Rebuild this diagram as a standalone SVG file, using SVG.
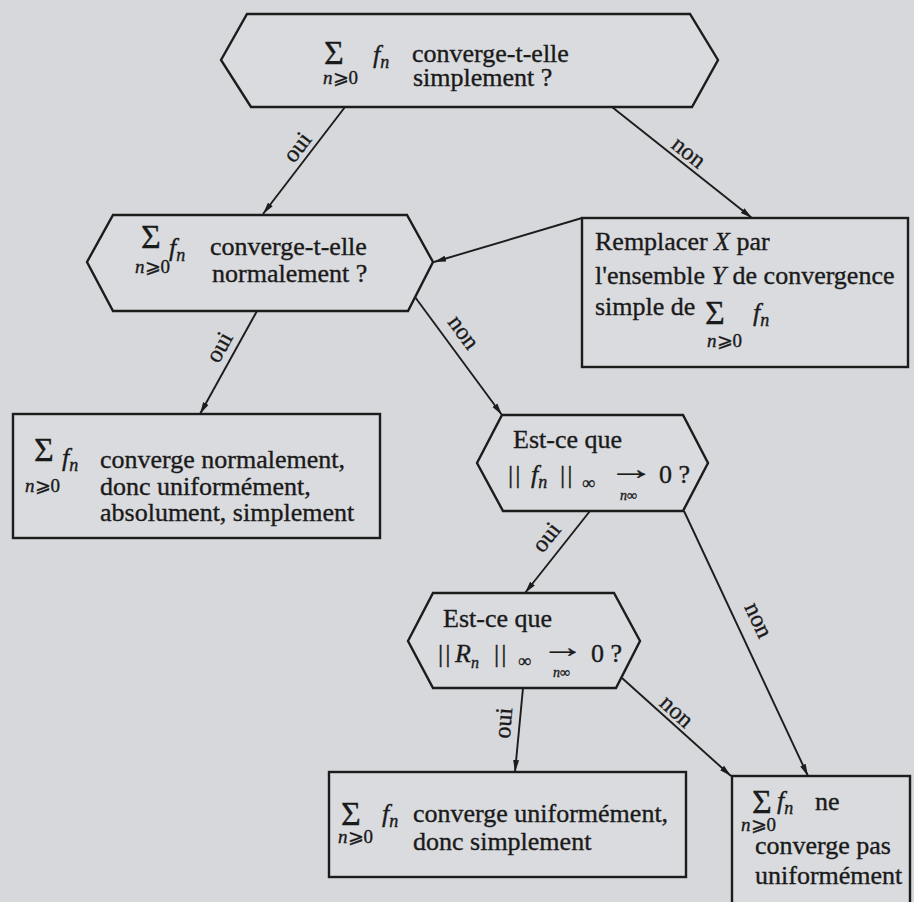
<svg xmlns="http://www.w3.org/2000/svg" width="914" height="902" viewBox="0 0 914 902">
<defs>
<style>
.bg{fill:#d6d8db}
.shape{fill:#d9dbde;stroke:#1c1c1c;stroke-width:2.4;stroke-linejoin:miter}
.conn{fill:none;stroke:#1c1c1c;stroke-width:1.9;marker-end:url(#ah)}
text{font-family:"Liberation Serif","Times New Roman",serif;fill:#1a1a1a;stroke:#1a1a1a;stroke-width:0.35}
.t{font-size:26px}
.sig{font-size:34px}
.sub{font-size:19px}
.it{font-style:italic}
.lab{font-size:24px}
.tiny{font-size:14px}
</style>
<marker id="ah" viewBox="0 0 12 8" refX="12" refY="4" markerWidth="12" markerHeight="8" markerUnits="userSpaceOnUse" orient="auto">
<path d="M0,1 L12,4 L0,7 z" fill="#1c1c1c"/>
</marker>
</defs>
<rect class="bg" x="0" y="0" width="914" height="902"/>

<g id="connectors">
<line class="conn" x1="345" y1="107" x2="263" y2="214"/>
<line class="conn" x1="612" y1="107" x2="752" y2="218"/>
<line class="conn" x1="582" y1="218" x2="434" y2="262"/>
<line class="conn" x1="257" y1="311" x2="200" y2="414"/>
<line class="conn" x1="415" y1="297" x2="502" y2="415"/>
<line class="conn" x1="590" y1="511" x2="525" y2="593"/>
<line class="conn" x1="684" y1="511" x2="808" y2="776"/>
<line class="conn" x1="622" y1="678" x2="731" y2="776"/>
<line class="conn" x1="523" y1="688" x2="515" y2="772"/>
<text class="lab" x="297" y="155" text-anchor="middle" transform="rotate(-52.5 297 147)">oui</text>
<text class="lab" x="689" y="160" text-anchor="middle" transform="rotate(38.4 689 152)">non</text>
<text class="lab" x="219" y="355" text-anchor="middle" transform="rotate(-61 219 347)">oui</text>
<text class="lab" x="464" y="340" text-anchor="middle" transform="rotate(53.6 464 332)">non</text>
<text class="lab" x="546" y="545" text-anchor="middle" transform="rotate(-51.6 546 537)">oui</text>
<text class="lab" x="759" y="628" text-anchor="middle" transform="rotate(64.9 759 620)">non</text>
<text class="lab" x="677" y="719" text-anchor="middle" transform="rotate(42.2 677 711)">non</text>
<text class="lab" x="503" y="731" text-anchor="middle" transform="rotate(-85 503 723)">oui</text>
</g>

<g id="q-simple">
<polygon class="shape" points="221,60 247,14 690,14 718,60 692,107 251,107"/>
<text class="sig" x="324" y="64">Σ</text>
<text class="sub" x="323" y="84"><tspan class="it">n</tspan>⩾0</text>
<text class="t" x="373" y="63"><tspan class="it">f</tspan><tspan class="it" font-size="18" dy="5">n</tspan></text>
<text class="t" x="412" y="62">converge-t-elle</text>
<text class="t" x="413" y="86">simplement ?</text>
</g>

<g id="q-normal">
<polygon class="shape" points="87,262 113,215 407,215 433,262 408,311 113,311"/>
<text class="sig" x="141" y="248">Σ</text>
<text class="sub" x="135" y="273"><tspan class="it">n</tspan>⩾0</text>
<text class="t" x="169" y="256"><tspan class="it">f</tspan><tspan class="it" font-size="18" dy="5">n</tspan></text>
<text class="t" x="210" y="255">converge-t-elle</text>
<text class="t" x="212" y="282">normalement ?</text>
</g>

<g id="replace">
<rect class="shape" x="582" y="218" width="326" height="149"/>
<text class="t" x="595" y="250">Remplacer <tspan class="it">X</tspan> par</text>
<text class="t" x="595" y="284">l'ensemble <tspan class="it">Y</tspan> de convergence</text>
<text class="t" x="595" y="315">simple de</text>
<text class="sig" x="705" y="324">Σ</text>
<text class="sub" x="707" y="347"><tspan class="it">n</tspan>⩾0</text>
<text class="t" x="753" y="321"><tspan class="it">f</tspan><tspan class="it" font-size="18" dy="5">n</tspan></text>
</g>

<g id="normal-yes">
<rect class="shape" x="13" y="414" width="367" height="124"/>
<text class="sig" x="34" y="461">Σ</text>
<text class="sub" x="25" y="492"><tspan class="it">n</tspan>⩾0</text>
<text class="t" x="62" y="466"><tspan class="it">f</tspan><tspan class="it" font-size="18" dy="5">n</tspan></text>
<text class="t" x="100" y="468">converge normalement,</text>
<text class="t" x="100" y="495">donc uniformément,</text>
<text class="t" x="100" y="521">absolument, simplement</text>
</g>

<g id="q-fn">
<polygon class="shape" points="477,463 502,415 683,415 708,463 683,511 503,511"/>
<text class="t" x="513" y="448">Est-ce que</text>
<text class="t" x="508" y="483" letter-spacing="2">||</text>
<text class="t" x="531" y="483"><tspan class="it">f</tspan><tspan class="it" font-size="18" dy="5">n</tspan></text>
<text class="t" x="560" y="483" letter-spacing="2">||</text>
<text x="582" y="489" font-size="18">∞</text>
<text font-size="30" transform="translate(608 479) scale(1.55 1)">→</text>
<text class="tiny" x="620" y="500"><tspan class="it">n</tspan>∞</text>
<text class="t" x="659" y="483">0 ?</text>
</g>

<g id="q-rn">
<polygon class="shape" points="408,641 433,593 614,593 640,641 616,688 433,688"/>
<text class="t" x="443" y="627">Est-ce que</text>
<text class="t" x="438" y="662" letter-spacing="2">||</text>
<text class="t" x="455" y="662"><tspan class="it">R</tspan><tspan class="it" font-size="16" dy="6">n</tspan></text>
<text class="t" x="494" y="662" letter-spacing="2">||</text>
<text x="518" y="667" font-size="18">∞</text>
<text font-size="30" transform="translate(541 657) scale(1.45 1)">→</text>
<text class="tiny" x="553" y="677"><tspan class="it">n</tspan>∞</text>
<text class="t" x="591" y="662">0 ?</text>
</g>

<g id="uniform-yes">
<rect class="shape" x="329" y="772" width="357" height="105"/>
<text class="sig" x="341" y="825">Σ</text>
<text class="sub" x="338" y="843"><tspan class="it">n</tspan>⩾0</text>
<text class="t" x="382" y="822"><tspan class="it">f</tspan><tspan class="it" font-size="18" dy="5">n</tspan></text>
<text class="t" x="413" y="822">converge uniformément,</text>
<text class="t" x="413" y="850">donc simplement</text>
</g>

<g id="uniform-no">
<rect class="shape" x="732" y="776" width="178" height="140"/>
<text class="sig" x="752" y="813">Σ</text>
<text class="t" x="777" y="809"><tspan class="it">f</tspan><tspan class="it" font-size="18" dy="5">n</tspan></text>
<text class="t" x="815" y="810">ne</text>
<text class="sub" x="741" y="831" font-size="17"><tspan class="it">n</tspan>⩾0</text>
<text class="t" x="755" y="854">converge pas</text>
<text class="t" x="755" y="884">uniformément</text>
</g>
</svg>
